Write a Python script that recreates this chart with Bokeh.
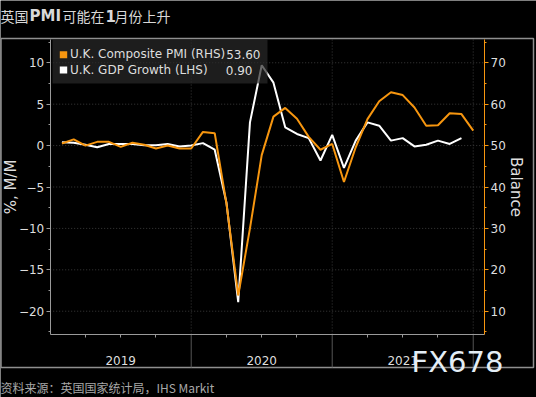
import numpy as np
from bokeh.plotting import figure
from bokeh.models import (Range1d, LinearAxis, FixedTicker, Legend, LegendItem, Label,
                          BoxAnnotation)
from bokeh.embed import file_html
from bokeh.resources import INLINE

# ---------------- data ----------------
title_parts = [("英国", "normal"), ("PMI", "bold"), ("可能在", "normal"), ("1", "bold"), ("月份上升", "normal")]
source_note = "资料来源：英国国家统计局，IHS Markit"
watermark = "FX678"
years = ["2019", "2020", "2021"]
pmi_name = "U.K. Composite PMI (RHS)"
gdp_name = "U.K. GDP Growth (LHS)"

months = ["2019-01", "2019-02", "2019-03", "2019-04", "2019-05", "2019-06",
          "2019-07", "2019-08", "2019-09", "2019-10", "2019-11", "2019-12",
          "2020-01", "2020-02", "2020-03", "2020-04", "2020-05", "2020-06",
          "2020-07", "2020-08", "2020-09", "2020-10", "2020-11", "2020-12",
          "2021-01", "2021-02", "2021-03", "2021-04", "2021-05", "2021-06",
          "2021-07", "2021-08", "2021-09", "2021-10", "2021-11", "2021-12"]

pmi = [50.5, 51.5, 50.0, 50.9, 50.9, 49.7, 50.7, 50.2, 49.3, 50.0, 49.3, 49.3,
       53.3, 53.0, 36.0, 13.8, 30.0, 47.7, 57.0, 59.1, 56.5, 52.1, 49.0, 50.4,
       41.2, 49.6, 56.4, 60.7, 62.9, 62.2, 59.2, 54.8, 54.9, 57.8, 57.6, 53.6]

gdp = [0.4, 0.35, 0.1, -0.2, 0.2, 0.2, 0.2, 0.05, 0.05, 0.2, -0.1, 0.0,
       0.3, -0.5, -6.9, -18.9, 2.8, 9.7, 7.6, 2.2, 1.4, 0.9, -1.8, 1.3,
       -2.7, 0.6, 2.8, 2.4, 0.6, 0.9, -0.1, 0.1, 0.6, 0.2, 0.9]

left_ticks = [-20, -15, -10, -5, 0, 5, 10]
right_ticks = [10, 20, 30, 40, 50, 60, 70]

# ---------------- styling / geometry ----------------
ORANGE = "#f7960f"
TXT = "#dedede"
AXC = "#9a9a9a"
GRIDC = "#3a3a3a"
SEPC = "#555555"
FRAMEC = "#8f8f8f"
W, H = 536, 397

X0, X1 = 0.0, 36.96           # months since Jan 1 2019 (points at month ends)
YL0, YL1 = -22.81, 12.81      # left axis
YR0, YR1 = 4.38, 75.62        # right axis
PX_L, PX_R, PX_T, PX_B = 49.7, 484.0, 39.0, 334.0
BOX_L, BOX_R, BOX_T, BOX_B = 0.5, 533.0, 38.0, 367.0   # outer frame in pixels
kx = (X1 - X0) / (PX_R - PX_L)
ky = (YL1 - YL0) / (PX_B - PX_T)
x_start, x_end = X0 - PX_L * kx, X1 + (W - PX_R) * kx
y_top, y_bot = YL1 + PX_T * ky, YL0 - (H - PX_B) * ky
r_of = lambda v: YR0 + (v - YL0) * (YR1 - YR0) / (YL1 - YL0)
x_of_px = lambda px: x_start + px * kx
y_of_px = lambda py: y_top - py * ky

x_pmi = np.arange(1, len(pmi) + 1)
x_gdp = np.arange(1, len(gdp) + 1)

p = figure(width=W, height=H, output_backend="svg", toolbar_location=None,
           x_range=Range1d(x_start, x_end), y_range=Range1d(y_bot, y_top),
           background_fill_color="black", border_fill_color="black",
           outline_line_color=None, min_border=0,
           x_axis_type=None, y_axis_type=None)
p.extra_y_ranges = {"pmi": Range1d(r_of(y_bot), r_of(y_top))}

# outer frame
bx = [x_of_px(BOX_L), x_of_px(BOX_R), x_of_px(BOX_R), x_of_px(BOX_L), x_of_px(BOX_L)]
by = [y_of_px(BOX_T), y_of_px(BOX_T), y_of_px(BOX_B), y_of_px(BOX_B), y_of_px(BOX_T)]
p.line(bx, by, line_color=FRAMEC, line_width=1.5)

# dotted grid lines (bounded to the plotting area)
year_bounds = [12 * (i + 1) for i in range(len(years))]
n_l, n_y = len(left_ticks), len(year_bounds)
p.segment(x0=[X0] * n_l, x1=[X1] * n_l, y0=left_ticks, y1=left_ticks,
          line_color=GRIDC, line_dash="1 2", line_width=1)
p.segment(x0=year_bounds, x1=year_bounds, y0=[YL0] * n_y, y1=[YL1] * n_y,
          line_color=GRIDC, line_dash="1 2", line_width=1)
# solid year separators in the label band
p.segment(x0=year_bounds, x1=year_bounds, y0=[YL0] * n_y, y1=[y_of_px(BOX_B)] * n_y,
          line_color=SEPC, line_width=1)

# bottom axis (years)
quarters = [q for q in range(3, 12 * len(years), 3) if q % 12 != 0]
year_mid = [12 * i + 6 for i in range(len(years))]
overrides = {q: "" for q in quarters}
for ym, yl in zip(year_mid, years):
    overrides[ym] = yl
xaxis = LinearAxis(ticker=FixedTicker(ticks=quarters, minor_ticks=[]),
                   fixed_location=YL0, bounds=(X0, X1),
                   major_label_overrides=overrides,
                   axis_line_color=AXC, major_tick_line_color=AXC,
                   major_tick_in=0, major_tick_out=3,
                   minor_tick_line_color=None,
                   major_label_standoff=18, major_label_text_color=TXT,
                   major_label_text_font="DejaVu Sans", major_label_text_font_size="12px")
p.add_layout(xaxis, "below")

# left axis
left_minor = list(np.arange(-22.5, 12.6, 2.5))
yaxis = LinearAxis(ticker=FixedTicker(ticks=left_ticks, minor_ticks=left_minor),
                   fixed_location=X0, bounds=(YL0, YL1),
                   axis_label="%, M/M", axis_label_text_font="DejaVu Sans",
                   axis_label_text_font_size="15px", axis_label_text_font_style="normal",
                   axis_label_text_color=TXT, axis_label_standoff=-4,
                   axis_line_color=AXC, major_tick_line_color=AXC, minor_tick_line_color=AXC,
                   major_tick_in=0, major_tick_out=4, minor_tick_in=0, minor_tick_out=2,
                   major_label_standoff=2, major_label_text_color=TXT,
                   major_label_text_font="DejaVu Sans", major_label_text_font_size="12px")
p.add_layout(yaxis, "left")

# right axis
right_minor = list(range(5, 76, 5))
raxis = LinearAxis(y_range_name="pmi", fixed_location=X1, bounds=(YR0, YR1),
                   ticker=FixedTicker(ticks=right_ticks, minor_ticks=right_minor),
                   axis_label="Balance", axis_label_text_font="DejaVu Sans",
                   axis_label_text_font_size="15px", axis_label_text_font_style="normal",
                   axis_label_text_color=TXT, axis_label_standoff=-2,
                   axis_line_color=ORANGE, major_tick_line_color=ORANGE, minor_tick_line_color=ORANGE,
                   major_tick_in=0, major_tick_out=4, minor_tick_in=0, minor_tick_out=2,
                   major_label_standoff=2, major_label_text_color=TXT,
                   major_label_text_font="DejaVu Sans", major_label_text_font_size="12px")
p.add_layout(raxis, "right")

# series
r_gdp = p.line(x_gdp, gdp, line_color="white", line_width=2)
r_pmi = p.line(x_pmi, pmi, line_color=ORANGE, line_width=2, y_range_name="pmi")

def sy(py):
    return H - py

def screen_box(l, r, t, b, **kw):
    return BoxAnnotation(left=l, right=r, top=sy(t), bottom=sy(b),
                         left_units="screen", right_units="screen",
                         top_units="screen", bottom_units="screen", **kw)

# legend background and keys
p.add_layout(screen_box(52, 267, 38.5, 83, fill_color="#2a2a2a", fill_alpha=0.7,
                        line_alpha=0))
p.add_layout(screen_box(59.3, 66.7, 50.7, 57.7, fill_color=ORANGE, fill_alpha=1, line_alpha=0))
p.add_layout(screen_box(59.3, 66.7, 66.0, 73.0, fill_color="white", fill_alpha=1, line_alpha=0))

legend = Legend(items=[LegendItem(label=pmi_name, renderers=[r_pmi]),
                       LegendItem(label=gdp_name, renderers=[r_gdp])],
                location=(70, sy(78)), padding=0, spacing=0, margin=0,
                glyph_width=0, glyph_height=16, label_height=16, label_standoff=0,
                background_fill_alpha=0, border_line_alpha=0,
                label_text_color=TXT, label_text_font="DejaVu Sans", label_text_font_size="12px")
p.add_layout(legend)

p.add_layout(Label(x=260, y=sy(54), x_units="screen", y_units="screen", text=f"{pmi[-1]:.2f}",
                   text_align="right", text_baseline="middle", text_color=TXT,
                   text_font="DejaVu Sans", text_font_size="12px"))
p.add_layout(Label(x=252, y=sy(69.5), x_units="screen", y_units="screen", text=f"{gdp[-1]:.2f}",
                   text_align="right", text_baseline="middle", text_color=TXT,
                   text_font="DejaVu Sans", text_font_size="12px"))

# title (mixed weights)
title_x = [0, 29, 62, 105, 114]
for (txt, style), tx in zip(title_parts, title_x):
    font = "Noto Sans CJK SC" if style == "normal" else "DejaVu Sans"
    size = "14px" if style == "normal" else "15px"
    p.add_layout(Label(x=tx, y=sy(15), x_units="screen", y_units="screen", text=txt,
                       text_font=font, text_font_style=style, text_font_size=size,
                       text_color="#d8d8d8", text_baseline="middle"))

# source note
p.add_layout(Label(x=0, y=sy(387), x_units="screen", y_units="screen", text=source_note,
                   text_font="Noto Sans CJK SC", text_font_size="12px",
                   text_color="#a8a8a8", text_baseline="middle"))

# watermark
p.add_layout(Label(x=457, y=sy(361), x_units="screen", y_units="screen", text=watermark,
                   text_font="DejaVu Sans", text_font_size="29px",
                   text_color="#e4eef6", text_align="center", text_baseline="middle"))

open("out.html", "w").write(file_html(p, INLINE))
